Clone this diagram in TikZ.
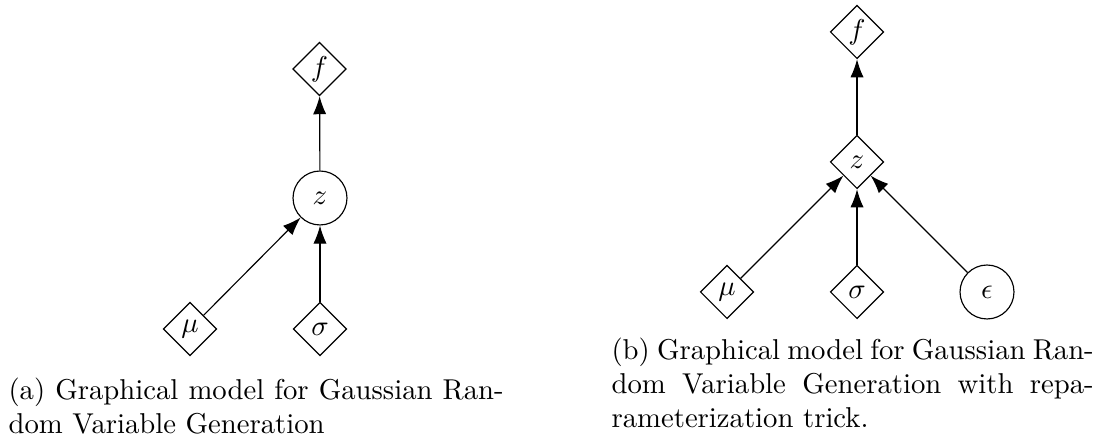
\documentclass[tikz,border=0pt]{standalone}
\usetikzlibrary{shapes.geometric,arrows.meta}
\begin{document}
\begin{tikzpicture}[x=0.3484pt,y=-0.3484pt,
  dnode/.style={diamond,draw,inner sep=0pt,minimum width=18.6pt,minimum height=18.6pt},
  cnode/.style={circle,draw,inner sep=0pt,minimum size=18.8pt},
  arr/.style={-{Latex[length=6.3pt,width=4.6pt]}},
  captext/.style={anchor=north west,inner sep=0pt,align=justify}]
\useasboundingbox (0,0) rectangle (1114,437);
% (a)
\node[dnode] (fa) at (319.5,69) {$f$};
\node[cnode] (za) at (320,198) {$z$};
\node[dnode] (mua) at (190,329) {$\mu$};
\node[dnode] (sa) at (320,329) {$\sigma$};
\draw[arr] (za) -- (fa);
\draw[arr] (mua) -- (za);
\draw[arr] (sa) -- (za);
\node[captext,text width=172.5pt] (capa) at (8,377)
  {(a) Graphical model for Gaussian Ran-\linebreak dom Variable Generation};
% (b)
\node[dnode] (fb) at (857,32) {$f$};
\node[dnode] (zb) at (857,162) {$z$};
\node[dnode] (mub) at (727,292) {$\mu$};
\node[dnode] (sb) at (857,292) {$\sigma$};
\node[cnode] (eb) at (987,292) {$\epsilon$};
\draw[arr] (zb) -- (fb);
\draw[arr] (mub) -- (zb);
\draw[arr] (sb) -- (zb);
\draw[arr] (eb) -- (zb);
\node[captext,text width=168pt] (capb) at (611,337)
  {(b) Graphical model for Gaussian Ran-\linebreak dom Variable Generation with repa-\linebreak rameterization trick.};
\end{tikzpicture}
\end{document}
